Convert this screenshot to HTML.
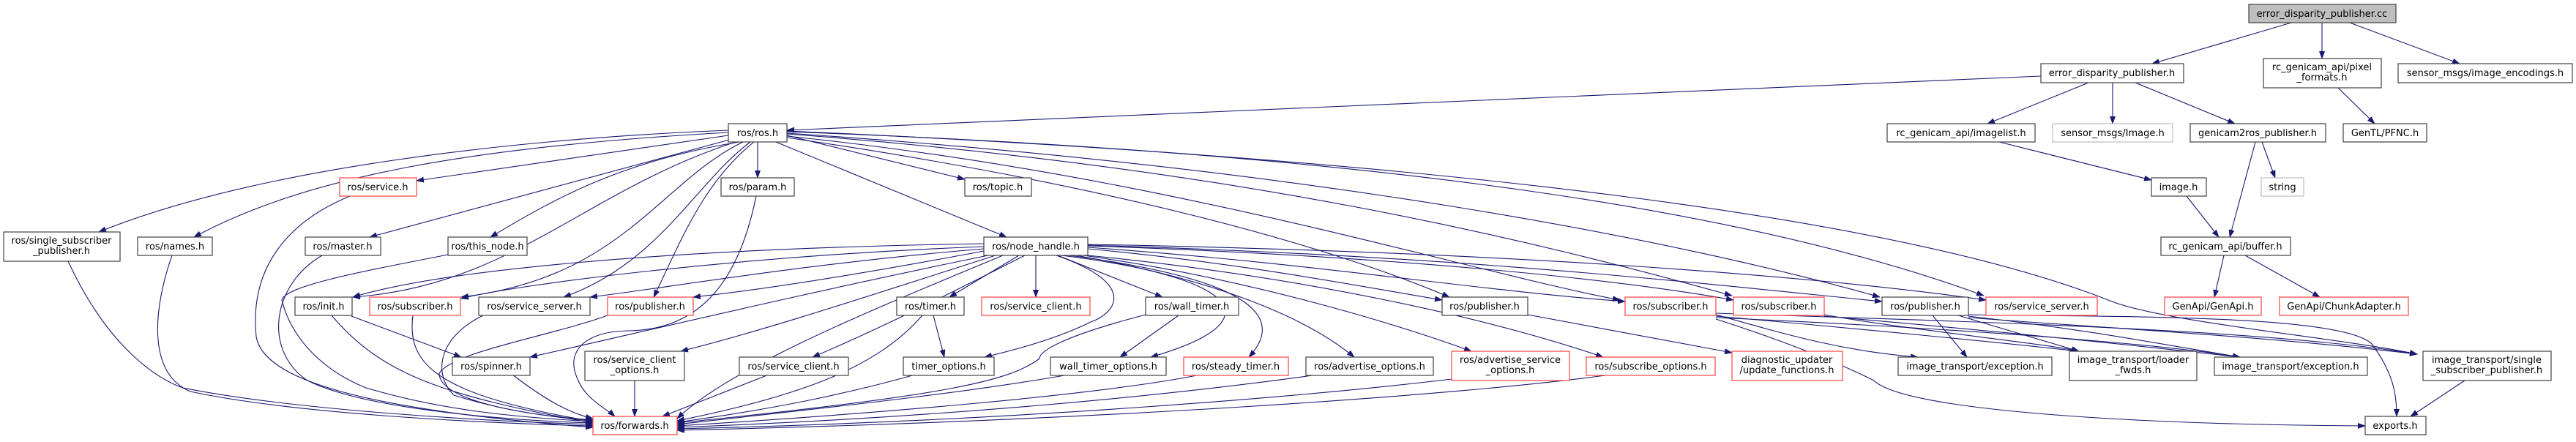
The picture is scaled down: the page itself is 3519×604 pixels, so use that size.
<!DOCTYPE html>
<html><head><meta charset="utf-8"><style>
html,body{margin:0;padding:0;background:#fff;}
svg{display:block}
text{font-family:"DejaVu Sans","Liberation Sans",sans-serif;font-size:13px;fill:#000;text-anchor:middle}
.n{fill:#fff;stroke:#404040;stroke-width:1.2}
.r{fill:#fff;stroke:#ff4040;stroke-width:1.2}
.g{fill:#fff;stroke:#bfbfbf;stroke-width:1.2}
.e{fill:none;stroke:#191970;stroke-width:1.1}
</style></head><body>
<svg width="3519" height="604" viewBox="0 0 3519 604" xmlns="http://www.w3.org/2000/svg">
<defs><marker id="a" markerWidth="11" markerHeight="8" refX="10" refY="4" orient="auto" markerUnits="userSpaceOnUse"><path d="M0,0L11,4L0,8z" fill="#191970"/></marker></defs>
<g class="e" marker-end="url(#a)">
<path d="M3130,31 L2940,87"/>
<path d="M3172,31 L3172,80"/>
<path d="M3210,31 L3360,87"/>
<path d="M2788,104 C2400,118 1800,148 1075,178"/>
<path d="M2853,113 L2715,169"/>
<path d="M2886,113 L2886,169"/>
<path d="M2917,113 L3053,169"/>
<path d="M2731,194 L2939,246"/>
<path d="M2987,268 L3031,324"/>
<path d="M3081,194 L3046,324"/>
<path d="M3090,194 L3108,243"/>
<path d="M3194,120 L3244,169"/>
<path d="M3038,349 L3025,406"/>
<path d="M3067,349 L3169,406"/>
<path d="M995,185 L569,247"/>
<path d="M995,178 C700,190 350,230 135,317"/>
<path d="M995,181 C650,200 420,240 265,324"/>
<path d="M1000,190 L505,324"/>
<path d="M1010,194 C850,220 760,270 670,324"/>
<path d="M1005,194 C800,260 700,390 482,406"/>
<path d="M1015,194 C900,250 850,380 630,406"/>
<path d="M1025,194 C950,250 900,360 770,406"/>
<path d="M1030,194 C960,250 930,330 893,406"/>
<path d="M1035,194 L1035,243"/>
<path d="M1075,185 L1318,245"/>
<path d="M1060,194 L1375,324"/>
<path d="M1075,188 C1500,250 1800,330 1980,406"/>
<path d="M1075,186 C1600,240 2000,370 2213,410"/>
<path d="M1075,183 C1700,230 2100,330 2366,404"/>
<path d="M1075,182 C1800,230 2300,330 2568,406"/>
<path d="M1075,180 C1900,210 2400,290 2710,404"/>
<path d="M1075,179 C2000,220 2600,300 2880,410 C2950,440 3200,462 3302,484"/>
<path d="M1344,333 C900,340 600,370 482,406"/>
<path d="M1344,337 C1000,350 700,390 630,408"/>
<path d="M1344,340 C1100,360 900,395 806,406"/>
<path d="M1344,343 C1200,370 1050,395 947,406"/>
<path d="M1350,349 C1100,400 850,460 724,488"/>
<path d="M1360,349 C1200,400 1050,450 930,480"/>
<path d="M1400,349 C1300,400 1200,450 1110,488"/>
<path d="M1370,349 C1200,420 1000,500 925,572"/>
<path d="M1392,349 L1297,406"/>
<path d="M1415,349 L1415,406"/>
<path d="M1445,349 L1588,406"/>
<path d="M1443,349 C1560,390 1520,430 1490,440 C1450,460 1400,475 1345,488"/>
<path d="M1450,349 C1700,380 1740,440 1572,488"/>
<path d="M1460,349 C1700,380 1760,430 1706,488"/>
<path d="M1470,349 C1650,380 1780,430 1850,488"/>
<path d="M1480,349 C1700,380 1900,440 2010,480"/>
<path d="M1486,349 C1800,380 2050,440 2190,488"/>
<path d="M1486,340 C1700,360 1850,390 1970,410"/>
<path d="M1486,338 C1800,360 2000,395 2220,412"/>
<path d="M1486,336 C1900,350 2200,380 2368,410"/>
<path d="M1486,335 C2000,350 2300,385 2571,412"/>
<path d="M1486,334 C2100,345 2500,380 2713,410"/>
<path d="M93,357 C150,480 220,520 250,530 C400,560 650,575 810,580"/>
<path d="M235,349 C210,420 200,510 260,535 C400,565 650,578 810,582"/>
<path d="M478,268 C400,300 340,360 350,460 C360,520 500,560 810,584"/>
<path d="M440,349 C370,390 360,480 420,520 C500,560 700,575 810,578"/>
<path d="M612,348 C500,370 390,390 385,410 C400,470 450,510 500,530 C600,560 700,570 810,576"/>
<path d="M453,431 C520,510 600,540 810,578"/>
<path d="M480,432 L630,488"/>
<path d="M564,431 C555,500 600,540 810,576"/>
<path d="M660,431 C600,460 590,510 620,540 C700,565 760,570 810,574"/>
<path d="M830,431 C750,460 620,480 600,510 C600,545 700,565 810,575"/>
<path d="M700,512 C750,550 780,565 810,572"/>
<path d="M1033,268 C1010,380 960,450 860,452 C800,452 770,480 790,520 C800,545 830,560 840,569"/>
<path d="M867,520 L867,569"/>
<path d="M1050,512 L905,569"/>
<path d="M1260,431 C1200,500 1100,540 925,575"/>
<path d="M1275,431 L1290,488"/>
<path d="M1250,512 C1150,540 1050,560 925,577"/>
<path d="M1565,430 C1450,460 1420,480 1420,490 C1380,520 1300,540 925,578"/>
<path d="M1610,431 L1530,488"/>
<path d="M1460,512 C1300,540 1100,560 925,580"/>
<path d="M1640,512 C1500,540 1200,565 925,582"/>
<path d="M1800,512 C1600,540 1300,570 925,584"/>
<path d="M1983,518 C1800,540 1400,575 925,586"/>
<path d="M2200,512 C2000,540 1500,575 925,588"/>
<path d="M2087,430 L2366,482"/>
<path d="M2344,430 C2450,460 2520,480 2620,488"/>
<path d="M2344,432 C2550,450 2750,470 2840,480"/>
<path d="M2344,434 C2700,450 2950,470 3060,488"/>
<path d="M2344,428 C2700,440 3100,450 3302,484"/>
<path d="M2344,436 C2450,470 2520,500 2560,520 C2600,560 2900,580 3231,582"/>
<path d="M2492,430 C2600,450 2800,470 2840,480"/>
<path d="M2492,432 C2700,450 2900,470 3060,488"/>
<path d="M2640,431 L2687,488"/>
<path d="M2675,431 L2840,480"/>
<path d="M2689,432 C2850,450 2950,470 3060,488"/>
<path d="M2689,434 C2900,450 3100,460 3302,484"/>
<path d="M2689,430 C2900,433 3200,430 3240,470 C3270,510 3274,540 3274,569"/>
<path d="M3367,520 L3293,569"/>
</g>
<rect x="3072" y="6" width="201" height="25" style="fill:#bfbfbf;stroke:#404040;stroke-width:1.2"/><text x="3172" y="23">error_disparity_publisher.cc</text>
<rect class="n" x="2788" y="87" width="195" height="26"/><text x="2885" y="104">error_disparity_publisher.h</text>
<rect class="n" x="3092" y="80" width="161" height="40"/><text x="3172" y="96">rc_genicam_api/pixel</text><text x="3172" y="110">_formats.h</text>
<rect class="n" x="3276" y="87" width="238" height="26"/><text x="3395" y="104">sensor_msgs/image_encodings.h</text>
<rect class="n" x="995" y="169" width="80" height="25"/><text x="1035" y="186">ros/ros.h</text>
<rect class="n" x="2578" y="169" width="202" height="25"/><text x="2679" y="186">rc_genicam_api/imagelist.h</text>
<rect class="g" x="2804" y="169" width="164" height="25"/><text x="2886" y="186">sensor_msgs/Image.h</text>
<rect class="n" x="2992" y="169" width="185" height="25"/><text x="3084" y="186">genicam2ros_publisher.h</text>
<rect class="n" x="3201" y="169" width="114" height="25"/><text x="3258" y="186">GenTL/PFNC.h</text>
<rect class="r" x="464" y="243" width="105" height="25"/><text x="516" y="260">ros/service.h</text>
<rect class="n" x="985" y="243" width="100" height="25"/><text x="1035" y="260">ros/param.h</text>
<rect class="n" x="1318" y="243" width="91" height="25"/><text x="1363" y="260">ros/topic.h</text>
<rect class="n" x="2939" y="243" width="75" height="25"/><text x="2976" y="260">image.h</text>
<rect class="g" x="3089" y="243" width="58" height="25"/><text x="3118" y="260">string</text>
<rect class="n" x="5" y="317" width="159" height="40"/><text x="84" y="333">ros/single_subscriber</text><text x="84" y="347">_publisher.h</text>
<rect class="n" x="188" y="324" width="102" height="25"/><text x="239" y="341">ros/names.h</text>
<rect class="n" x="417" y="324" width="103" height="25"/><text x="468" y="341">ros/master.h</text>
<rect class="n" x="612" y="324" width="108" height="25"/><text x="666" y="341">ros/this_node.h</text>
<rect class="n" x="1344" y="324" width="142" height="25"/><text x="1415" y="341">ros/node_handle.h</text>
<rect class="n" x="2952" y="324" width="177" height="25"/><text x="3040" y="341">rc_genicam_api/buffer.h</text>
<rect class="n" x="403" y="406" width="78" height="25"/><text x="442" y="423">ros/init.h</text>
<rect class="r" x="505" y="406" width="124" height="25"/><text x="567" y="423">ros/subscriber.h</text>
<rect class="n" x="654" y="406" width="152" height="25"/><text x="730" y="423">ros/service_server.h</text>
<rect class="r" x="830" y="406" width="117" height="25"/><text x="888" y="423">ros/publisher.h</text>
<rect class="n" x="1225" y="406" width="92" height="25"/><text x="1271" y="423">ros/timer.h</text>
<rect class="r" x="1341" y="406" width="148" height="25"/><text x="1415" y="423">ros/service_client.h</text>
<rect class="n" x="1565" y="406" width="127" height="25"/><text x="1628" y="423">ros/wall_timer.h</text>
<rect class="n" x="1970" y="406" width="117" height="25"/><text x="2028" y="423">ros/publisher.h</text>
<rect class="r" x="2220" y="406" width="124" height="25"/><text x="2282" y="423">ros/subscriber.h</text>
<rect class="r" x="2368" y="406" width="124" height="25"/><text x="2430" y="423">ros/subscriber.h</text>
<rect class="n" x="2571" y="406" width="118" height="25"/><text x="2630" y="423">ros/publisher.h</text>
<rect class="r" x="2713" y="406" width="152" height="25"/><text x="2789" y="423">ros/service_server.h</text>
<rect class="r" x="2957" y="406" width="132" height="25"/><text x="3023" y="423">GenApi/GenApi.h</text>
<rect class="r" x="3114" y="406" width="176" height="25"/><text x="3202" y="423">GenApi/ChunkAdapter.h</text>
<rect class="n" x="618" y="488" width="106" height="25"/><text x="671" y="505">ros/spinner.h</text>
<rect class="n" x="799" y="480" width="136" height="40"/><text x="867" y="496">ros/service_client</text><text x="867" y="510">_options.h</text>
<rect class="n" x="1010" y="488" width="149" height="25"/><text x="1084" y="505">ros/service_client.h</text>
<rect class="n" x="1234" y="488" width="124" height="25"/><text x="1296" y="505">timer_options.h</text>
<rect class="n" x="1435" y="488" width="158" height="25"/><text x="1514" y="505">wall_timer_options.h</text>
<rect class="r" x="1617" y="488" width="143" height="25"/><text x="1688" y="505">ros/steady_timer.h</text>
<rect class="n" x="1784" y="488" width="174" height="25"/><text x="1871" y="505">ros/advertise_options.h</text>
<rect class="r" x="1983" y="480" width="161" height="40"/><text x="2063" y="496">ros/advertise_service</text><text x="2063" y="510">_options.h</text>
<rect class="r" x="2167" y="488" width="176" height="25"/><text x="2255" y="505">ros/subscribe_options.h</text>
<rect class="r" x="2366" y="480" width="151" height="40"/><text x="2441" y="496">diagnostic_updater</text><text x="2441" y="510">/update_functions.h</text>
<rect class="n" x="2593" y="488" width="210" height="25"/><text x="2698" y="505">image_transport/exception.h</text>
<rect class="n" x="2827" y="480" width="174" height="40"/><text x="2914" y="496">image_transport/loader</text><text x="2914" y="510">_fwds.h</text>
<rect class="n" x="3025" y="488" width="209" height="25"/><text x="3129" y="505">image_transport/exception.h</text>
<rect class="n" x="3310" y="480" width="175" height="40"/><text x="3397" y="496">image_transport/single</text><text x="3397" y="510">_subscriber_publisher.h</text>
<rect class="r" x="810" y="569" width="115" height="25"/><text x="867" y="586">ros/forwards.h</text>
<rect class="n" x="3231" y="569" width="83" height="25"/><text x="3272" y="586">exports.h</text>
</svg>
</body></html>
